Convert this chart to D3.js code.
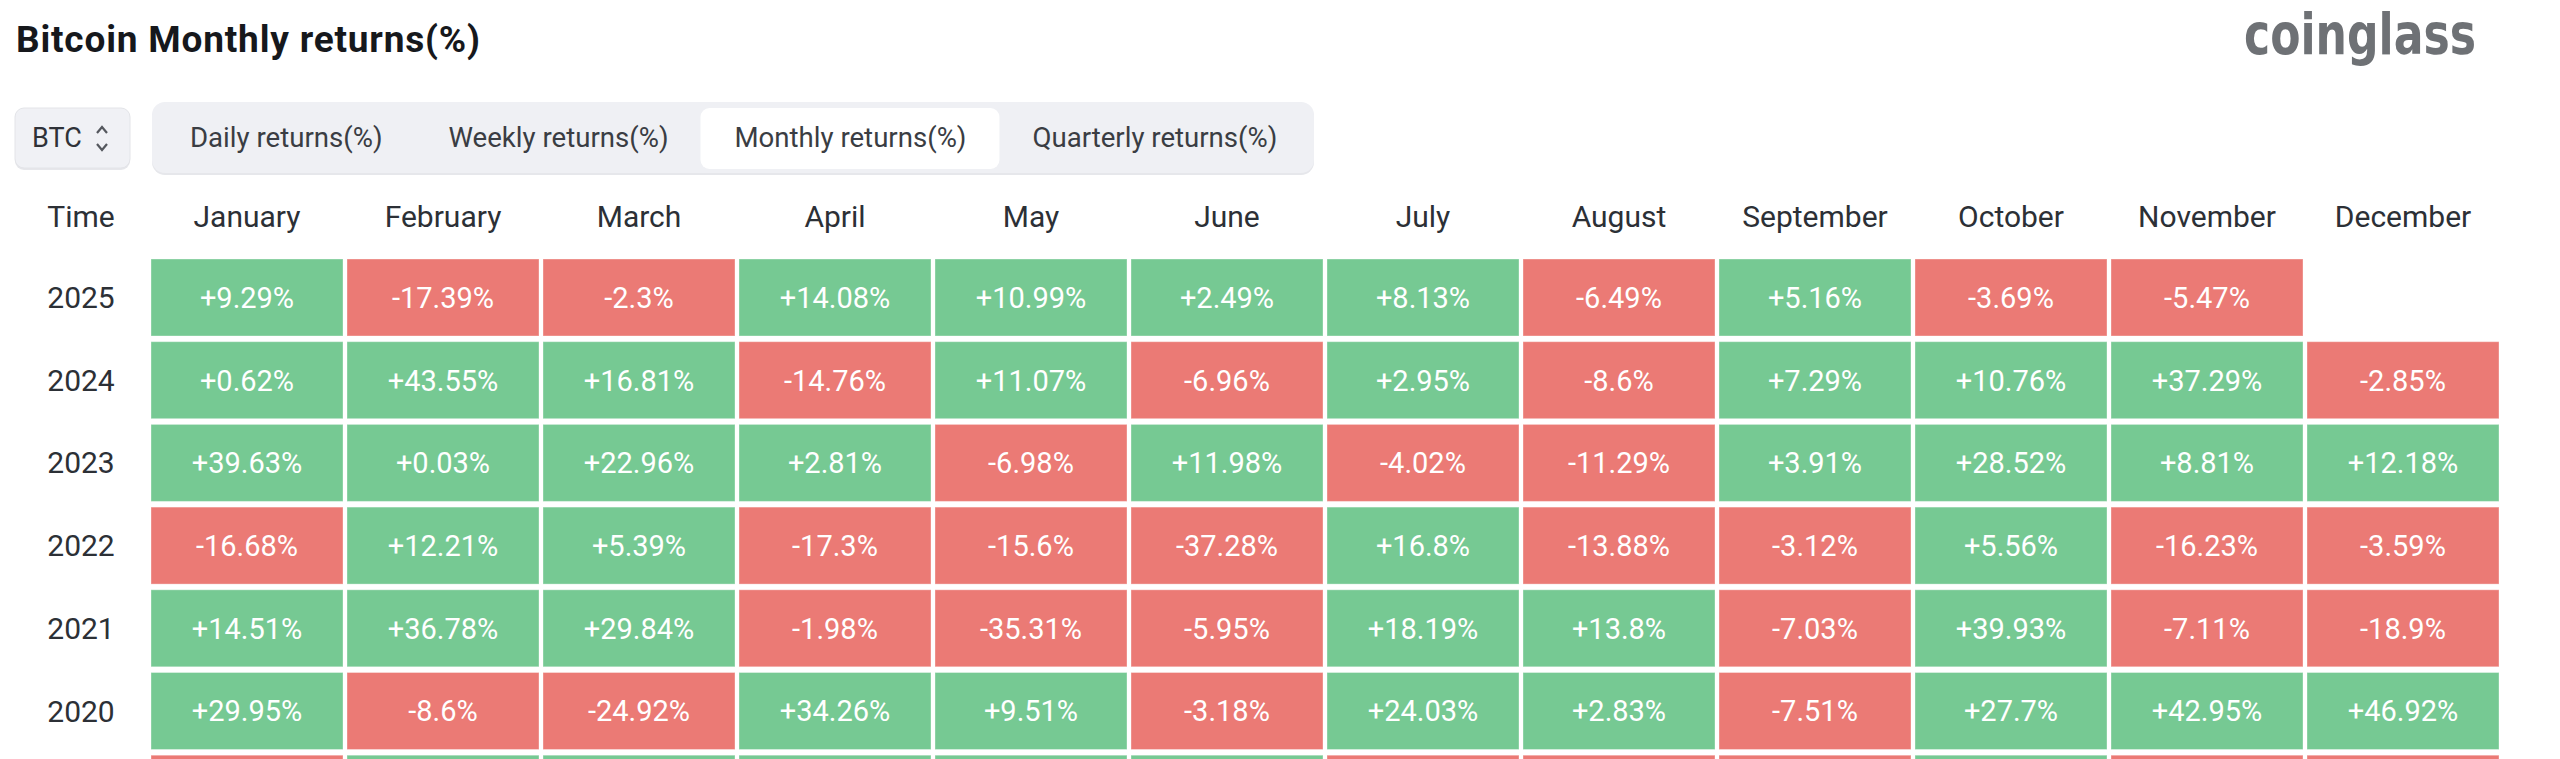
<!DOCTYPE html>
<html>
<head>
<meta charset="utf-8">
<style>
  body { margin: 0; background: #fff; }
  svg { display: block; font-family: Roboto, "Noto Sans", sans-serif; }
</style>
</head>
<body>
<script src="https://d3js.org/d3.v7.min.js"></script>
<script>

var months = ["January", "February", "March", "April", "May", "June", "July",
              "August", "September", "October", "November", "December"];
var years = ["2025", "2024", "2023", "2022", "2021", "2020", "2019"];
var tabs = ["Daily returns(%)", "Weekly returns(%)", "Monthly returns(%)", "Quarterly returns(%)"];
var activeTab = "Monthly returns(%)";

// monthly returns in %, one array per year (null = no data yet)
var r2025 = [9.29, -17.39, -2.3, 14.08, 10.99, 2.49, 8.13, -6.49, 5.16, -3.69, -5.47, null];
var r2024 = [0.62, 43.55, 16.81, -14.76, 11.07, -6.96, 2.95, -8.6, 7.29, 10.76, 37.29, -2.85];
var r2023 = [39.63, 0.03, 22.96, 2.81, -6.98, 11.98, -4.02, -11.29, 3.91, 28.52, 8.81, 12.18];
var r2022 = [-16.68, 12.21, 5.39, -17.3, -15.6, -37.28, 16.8, -13.88, -3.12, 5.56, -16.23, -3.59];
var r2021 = [14.51, 36.78, 29.84, -1.98, -35.31, -5.95, 18.19, 13.8, -7.03, 39.93, -7.11, -18.9];
var r2020 = [29.95, -8.6, -24.92, 34.26, 9.51, -3.18, 24.03, 2.83, -7.51, 27.7, 42.95, 46.92];
var r2019 = [-8.58, 11.14, 7.05, 34.36, 52.38, 26.67, -6.59, -4.6, -13.38, 10.17, -17.27, -5.15];

var rows = [r2025, r2024, r2023, r2022, r2021, r2020, r2019];

var width = 2560, height = 759;

var svg = d3.select("body").append("svg")
    .attr("width", width)
    .attr("height", height);

// title + logo
svg.append("text")
    .attr("x", 16)
    .attr("y", 52)
    .attr("textLength", 464)
    .attr("lengthAdjust", "spacing")
    .style("font-size", "37px")
    .style("font-weight", 700)
    .style("fill", "#16181c")
    .text("Bitcoin Monthly returns(%)");

svg.append("text")
    .attr("x", 2244)
    .attr("y", 54)
    .attr("textLength", 232)
    .attr("lengthAdjust", "spacingAndGlyphs")
    .style("font-family", "'DejaVu Sans Condensed', 'DejaVu Sans'")
    .style("font-size", "57px")
    .style("font-weight", 700)
    .style("fill", "#6e7175")
    .text("coinglass");

// coin selector
var sel = svg.append("g");
sel.append("rect")
    .attr("x", 15).attr("y", 110).attr("width", 115).attr("height", 60).attr("rx", 9)
    .style("fill", "#e6e7eb");
sel.append("rect")
    .attr("x", 15).attr("y", 108).attr("width", 115).attr("height", 60).attr("rx", 9)
    .style("fill", "#f0f1f5")
    .style("stroke", "#e3e4e8");
sel.append("text")
    .attr("x", 32).attr("y", 147)
    .style("font-size", "27px")
    .style("fill", "#2f3238")
    .text("BTC");
sel.append("path")
    .attr("d", "M97,133 L102,127 L107,133 M97,144 L102,150 L107,144")
    .style("fill", "none")
    .style("stroke", "#55585e")
    .style("stroke-width", 2.2);

// tab bar: labels laid out one after another by their measured width
var bar = svg.append("g");
bar.append("rect")
    .attr("x", 152).attr("y", 104).attr("width", 1162).attr("height", 71).attr("rx", 13)
    .style("fill", "#e6e7eb");
bar.append("rect")
    .attr("x", 152).attr("y", 102).attr("width", 1162).attr("height", 71).attr("rx", 13)
    .style("fill", "#eff0f4");
var activeBox = bar.append("rect")
    .attr("y", 108).attr("height", 61).attr("rx", 9)
    .style("fill", "#fff");

var tabText = bar.selectAll(".tab")
    .data(tabs)
  .enter().append("text")
    .attr("class", "tab")
    .attr("y", 147)
    .style("font-size", "27.6px")
    .style("fill", "#3a3d43")
    .text(function(d) { return d; });

var cursor = 190;
tabText.each(function(d) {
  var w = this.getComputedTextLength();
  d3.select(this).attr("x", cursor);
  if (d === activeTab) activeBox.attr("x", cursor - 34).attr("width", w + 67);
  cursor += w + 66;
});

// grid scales
var x = d3.scaleBand()
    .domain(months)
    .range([151, 2499])
    .paddingInner(4 / 196);

var y = d3.scaleBand()
    .domain(years)
    .range([259, 259 + years.length * 82.7 - 5.7])
    .paddingInner(5.7 / 82.7);

var green = "#76c993", red = "#eb7a75";

// header row
svg.append("text")
    .attr("x", 81).attr("y", 216)
    .attr("dy", "0.35em")
    .style("text-anchor", "middle")
    .style("font-size", "30px")
    .style("fill", "#2c3036")
    .text("Time");

svg.selectAll(".month")
    .data(months)
  .enter().append("text")
    .attr("class", "month")
    .attr("x", function(d) { return x(d) + x.bandwidth() / 2; })
    .attr("y", 216)
    .attr("dy", "0.35em")
    .style("text-anchor", "middle")
    .style("font-size", "30px")
    .style("fill", "#2c3036")
    .text(function(d) { return d; });

// year labels (only rows whose middle is on screen)
svg.selectAll(".year")
    .data(years.filter(function(d) { return y(d) + y.bandwidth() / 2 < height; }))
  .enter().append("text")
    .attr("class", "year")
    .attr("x", 81)
    .attr("y", function(d) { return y(d) + y.bandwidth() / 2; })
    .attr("dy", "0.35em")
    .style("text-anchor", "middle")
    .style("font-size", "30px")
    .style("fill", "#2c3036")
    .text(function(d) { return d; });

// cells
var cells = [];
rows.forEach(function(r, i) {
  r.forEach(function(v, j) {
    if (v !== null) cells.push({year: years[i], month: months[j], value: v});
  });
});

var cell = svg.selectAll(".cell")
    .data(cells)
  .enter().append("g")
    .attr("class", "cell")
    .attr("transform", function(d) { return "translate(" + x(d.month) + "," + y(d.year) + ")"; });

cell.append("rect")
    .attr("width", x.bandwidth())
    .attr("height", y.bandwidth())
    .style("fill", function(d) { return d.value >= 0 ? green : red; })
    .style("stroke", "rgba(255,255,255,0.35)")
    .style("stroke-width", 1);

// the last row is scrolled mostly out of view, its labels are not visible
cell.filter(function(d) { return y(d.year) + y.bandwidth() / 2 < height; })
  .append("text")
    .attr("x", x.bandwidth() / 2)
    .attr("y", y.bandwidth() / 2)
    .attr("dy", "0.36em")
    .style("text-anchor", "middle")
    .style("font-size", "29px")
    .style("fill", "#fff")
    .text(function(d) { return (d.value > 0 ? "+" : "") + d.value + "%"; });

</script>
</body>
</html>
